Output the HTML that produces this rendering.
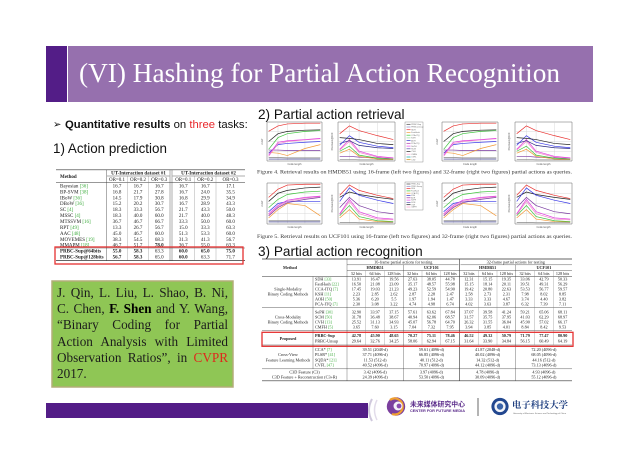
<!DOCTYPE html>
<html><head><meta charset="utf-8">
<style>
html,body{margin:0;padding:0;background:#fff}
body{width:640px;height:452px;overflow:hidden;position:relative}
svg{position:absolute;left:0;top:0}
.gb{position:absolute;left:57px;top:284.8px;width:171px;font-family:"Liberation Serif",serif;font-size:13.2px;line-height:16.3px;color:#1c1c1c}
.gb div{text-align:justify;text-align-last:justify;height:16.3px}
.gb div.l{text-align:left;text-align-last:left}
.gb b{color:#000}
.gb .r{color:#e0281c}
</style></head><body>
<svg width="640" height="452" viewBox="0 0 640 452" xmlns="http://www.w3.org/2000/svg">
<defs>
<g id="grid">
<rect x="0" y="0" width="100" height="100" fill="#fff" stroke="#666" stroke-width="0.5" vector-effect="non-scaling-stroke"/>
<path d="M20 0V100M37 0V100M69 0V100M0 25H100M0 50H100M0 75H100" stroke="#cfcfcf" stroke-width="0.4" fill="none" vector-effect="non-scaling-stroke"/>
</g>
<g id="inc1" fill="none" stroke-width="0.7">
<polyline vector-effect="non-scaling-stroke" stroke="#888" points="3,91 20,91 37,92 69,92 97,92"/>
<polyline vector-effect="non-scaling-stroke" stroke="#2a2a80" points="3,95 20,95 37,95 69,95 97,95"/>
<polyline vector-effect="non-scaling-stroke" stroke="#7a3aa0" points="3,72 20,72 37,73 69,73 97,73"/>
<polyline vector-effect="non-scaling-stroke" stroke="#f29a3a" points="3,78 20,80 37,86 69,68 97,58"/>
<polyline vector-effect="non-scaling-stroke" stroke="#3a3ae8" points="3,80 20,58 37,55 69,52 97,50"/>
<polyline vector-effect="non-scaling-stroke" stroke="#f08cc8" points="3,88 20,56 37,50 69,46 97,43"/>
<polyline vector-effect="non-scaling-stroke" stroke="#e040e0" points="3,85 20,52 37,48 69,45 97,42"/>
<polyline vector-effect="non-scaling-stroke" stroke="#3fc43f" points="3,70 20,40 37,30 69,24 97,22"/>
<polyline vector-effect="non-scaling-stroke" stroke="#222" points="3,50 20,30 37,24 69,21 97,20"/>
<polyline vector-effect="non-scaling-stroke" stroke="#e8312f" points="3,24 20,10 37,5 69,3 97,3"/>
</g>
<g id="dec1" fill="none" stroke-width="0.7">
<polyline vector-effect="non-scaling-stroke" stroke="#888" points="3,96 20,96 37,97 69,97 97,97"/>
<polyline vector-effect="non-scaling-stroke" stroke="#7a3aa0" points="3,88 20,88 37,90 69,92 97,93"/>
<polyline vector-effect="non-scaling-stroke" stroke="#f29a3a" points="3,80 20,70 37,88 69,95 97,96"/>
<polyline vector-effect="non-scaling-stroke" stroke="#3fc43f" points="3,75 20,62 37,85 69,93 97,95"/>
<polyline vector-effect="non-scaling-stroke" stroke="#f08cc8" points="3,72 20,50 37,78 69,90 97,93"/>
<polyline vector-effect="non-scaling-stroke" stroke="#e040e0" points="3,70 20,45 37,75 69,88 97,92"/>
<polyline vector-effect="non-scaling-stroke" stroke="#2a2a80" points="3,55 20,48 37,60 69,66 97,68"/>
<polyline vector-effect="non-scaling-stroke" stroke="#3a3ae8" points="3,60 20,35 37,52 69,62 97,66"/>
<polyline vector-effect="non-scaling-stroke" stroke="#222" points="3,40 20,42 37,45 69,55 97,58"/>
<polyline vector-effect="non-scaling-stroke" stroke="#e8312f" points="3,30 20,10 37,22 69,35 97,45"/>
</g>
<g id="inc2" fill="none" stroke-width="0.7">
<polyline vector-effect="non-scaling-stroke" stroke="#888" points="3,92 20,92 37,92 69,92 97,92"/>
<polyline vector-effect="non-scaling-stroke" stroke="#2a2a80" points="3,95 20,95 37,95 69,95 97,95"/>
<polyline vector-effect="non-scaling-stroke" stroke="#f29a3a" points="3,85 20,65 37,50 69,55 97,80"/>
<polyline vector-effect="non-scaling-stroke" stroke="#3a3ae8" points="3,70 20,50 37,45 69,45 97,45"/>
<polyline vector-effect="non-scaling-stroke" stroke="#7a3aa0" points="3,80 20,60 37,48 69,40 97,35"/>
<polyline vector-effect="non-scaling-stroke" stroke="#f08cc8" points="3,78 20,58 37,45 69,37 97,33"/>
<polyline vector-effect="non-scaling-stroke" stroke="#e040e0" points="3,75 20,55 37,42 69,35 97,32"/>
<polyline vector-effect="non-scaling-stroke" stroke="#3fc43f" points="3,60 20,40 37,28 69,22 97,20"/>
<polyline vector-effect="non-scaling-stroke" stroke="#222" points="3,45 20,25 37,18 69,12 97,10"/>
<polyline vector-effect="non-scaling-stroke" stroke="#e8312f" points="3,35 20,15 37,5 69,3 97,3"/>
</g>
<g id="dec2" fill="none" stroke-width="0.7">
<polyline vector-effect="non-scaling-stroke" stroke="#888" points="3,96 20,96 37,97 69,97 97,97"/>
<polyline vector-effect="non-scaling-stroke" stroke="#f29a3a" points="3,85 20,65 37,88 69,94 97,95"/>
<polyline vector-effect="non-scaling-stroke" stroke="#3fc43f" points="3,80 20,55 37,82 69,92 97,94"/>
<polyline vector-effect="non-scaling-stroke" stroke="#f08cc8" points="3,78 20,45 37,75 69,88 97,90"/>
<polyline vector-effect="non-scaling-stroke" stroke="#e040e0" points="3,75 20,40 37,70 69,85 97,88"/>
<polyline vector-effect="non-scaling-stroke" stroke="#7a3aa0" points="3,60 20,35 37,55 69,70 97,75"/>
<polyline vector-effect="non-scaling-stroke" stroke="#222" points="3,35 20,22 37,28 69,35 97,40"/>
<polyline vector-effect="non-scaling-stroke" stroke="#3a3ae8" points="3,45 20,12 37,30 69,42 97,50"/>
<polyline vector-effect="non-scaling-stroke" stroke="#e8312f" points="3,30 20,5 37,18 69,30 97,38"/>
</g>
</defs>

<!-- Title bar -->
<rect x="46" y="46" width="21" height="56" fill="#531d87"/>
<rect x="68" y="46" width="525" height="56" fill="#9670ae"/>
<text x="79" y="82" font-family="'Liberation Serif',serif" font-size="27.2" fill="#fff" textLength="481" lengthAdjust="spacingAndGlyphs">(VI) Hashing for Partial Action Recognition</text>

<!-- Headings -->
<text x="53" y="127.5" font-family="'DejaVu Sans',sans-serif" font-size="10" fill="#111">➢</text>
<text x="65" y="128" font-family="'Liberation Sans',sans-serif" font-size="11.3" fill="#111"><tspan font-weight="bold">Quantitative results</tspan> on <tspan fill="#e8262a">three</tspan> tasks:</text>
<text x="53" y="153" font-family="'Liberation Sans',sans-serif" font-size="13.4" fill="#111">1) Action prediction</text>
<text x="258" y="119" font-family="'Liberation Sans',sans-serif" font-size="13.6" fill="#111">2) Partial action retrieval</text>
<text x="258" y="256" font-family="'Liberation Sans',sans-serif" font-size="13.6" fill="#111">3) Partial action recognition</text>

<!-- Left table -->
<g stroke="#333" fill="none">
<path d="M56 169.8H245" stroke-width="0.7"/>
<path d="M107 176H169.5M172.5 176H245" stroke-width="0.4"/>
<path d="M56 182.5H245" stroke-width="0.5"/>
<path d="M56 248H245" stroke-width="0.4"/>
<path d="M56 260.6H245" stroke-width="0.7"/>
<path d="M106.5 169.8V260.6M170 169.8V260.6M172 169.8V260.6" stroke-width="0.4"/>
<path d="M127.5 176V260.6M148.5 176V260.6M194.5 176V260.6M216 176V260.6" stroke-width="0.3" stroke="#777"/>
</g>
<g font-family="'Liberation Serif',serif" font-size="5" fill="#222">
<text x="60" y="178" font-weight="bold">Method</text>
<g text-anchor="middle" font-weight="bold">
<text x="138.5" y="174.3">UT-Interaction dataset #1</text>
<text x="208.5" y="174.3">UT-Interaction dataset #2</text>
</g>
<text y="180.8" text-anchor="middle"><tspan x="117">OR=0.1</tspan><tspan x="138">OR=0.2</tspan><tspan x="159.2">OR=0.3</tspan><tspan x="183.2">OR=0.1</tspan><tspan x="205.2">OR=0.2</tspan><tspan x="230.5">OR=0.3</tspan></text>
<g>
<text x="60" y="187.4">Bayesian <tspan fill="#3cab3c">[36]</tspan></text>
<text x="60" y="193.3">BP-SVM <tspan fill="#3cab3c">[38]</tspan></text>
<text x="60" y="199.3">IBoW <tspan fill="#3cab3c">[36]</tspan></text>
<text x="60" y="205.2">DBoW <tspan fill="#3cab3c">[36]</tspan></text>
<text x="60" y="211.1">SC <tspan fill="#3cab3c">[4]</tspan></text>
<text x="60" y="217.1">MSSC <tspan fill="#3cab3c">[4]</tspan></text>
<text x="60" y="223.0">MTSSVM <tspan fill="#3cab3c">[16]</tspan></text>
<text x="60" y="228.9">RPT <tspan fill="#3cab3c">[49]</tspan></text>
<text x="60" y="234.8">AAC <tspan fill="#3cab3c">[48]</tspan></text>
<text x="60" y="240.8">MOVEMES <tspan fill="#3cab3c">[19]</tspan></text>
<text x="60" y="246.7">MMAPM <tspan fill="#3cab3c">[18]</tspan></text>
<text x="60" y="252.6" font-weight="bold">PRBC-Sup@64bits</text>
<text x="60" y="258.6" font-weight="bold">PRBC-Sup@128bits</text>
</g>
<g text-anchor="middle">
<text y="187.4"><tspan x="117">16.7</tspan><tspan x="138">16.7</tspan><tspan x="159.2">16.7</tspan><tspan x="183.2">16.7</tspan><tspan x="205.2">16.7</tspan><tspan x="230.5">17.1</tspan></text>
<text y="193.3"><tspan x="117">16.8</tspan><tspan x="138">21.7</tspan><tspan x="159.2">27.8</tspan><tspan x="183.2">16.7</tspan><tspan x="205.2">24.0</tspan><tspan x="230.5">35.5</tspan></text>
<text y="199.3"><tspan x="117">14.5</tspan><tspan x="138">17.9</tspan><tspan x="159.2">30.8</tspan><tspan x="183.2">16.8</tspan><tspan x="205.2">29.9</tspan><tspan x="230.5">34.9</tspan></text>
<text y="205.2"><tspan x="117">15.2</tspan><tspan x="138">20.2</tspan><tspan x="159.2">30.7</tspan><tspan x="183.2">16.7</tspan><tspan x="205.2">28.9</tspan><tspan x="230.5">43.3</tspan></text>
<text y="211.1"><tspan x="117">18.3</tspan><tspan x="138">33.3</tspan><tspan x="159.2">56.7</tspan><tspan x="183.2">21.7</tspan><tspan x="205.2">43.3</tspan><tspan x="230.5">50.0</tspan></text>
<text y="217.1"><tspan x="117">18.3</tspan><tspan x="138">40.0</tspan><tspan x="159.2">60.0</tspan><tspan x="183.2">21.7</tspan><tspan x="205.2">40.0</tspan><tspan x="230.5">48.3</tspan></text>
<text y="223.0"><tspan x="117">36.7</tspan><tspan x="138">46.7</tspan><tspan x="159.2">66.7</tspan><tspan x="183.2">33.3</tspan><tspan x="205.2">50.0</tspan><tspan x="230.5">60.0</tspan></text>
<text y="228.9"><tspan x="117">13.3</tspan><tspan x="138">26.7</tspan><tspan x="159.2">56.7</tspan><tspan x="183.2">15.0</tspan><tspan x="205.2">33.3</tspan><tspan x="230.5">63.3</tspan></text>
<text y="234.8"><tspan x="117">45.0</tspan><tspan x="138">46.7</tspan><tspan x="159.2">60.0</tspan><tspan x="183.2">51.3</tspan><tspan x="205.2">53.3</tspan><tspan x="230.5">60.0</tspan></text>
<text y="240.8"><tspan x="117">38.3</tspan><tspan x="138">54.5</tspan><tspan x="159.2">68.3</tspan><tspan x="183.2">31.3</tspan><tspan x="205.2">41.3</tspan><tspan x="230.5">56.7</tspan></text>
<text y="246.7"><tspan x="117">46.7</tspan><tspan x="138">51.7</tspan><tspan x="159.2" font-weight="bold">78.0</tspan><tspan x="183.2">36.7</tspan><tspan x="205.2">55.0</tspan><tspan x="230.5">63.3</tspan></text>
<text y="252.6"><tspan x="117" font-weight="bold">55.0</tspan><tspan x="138" font-weight="bold">58.3</tspan><tspan x="159.2">63.3</tspan><tspan x="183.2" font-weight="bold">60.0</tspan><tspan x="205.2" font-weight="bold">65.0</tspan><tspan x="230.5" font-weight="bold">75.0</tspan></text>
<text y="258.6"><tspan x="117" font-weight="bold">56.7</tspan><tspan x="138" font-weight="bold">58.3</tspan><tspan x="159.2">65.0</tspan><tspan x="183.2" font-weight="bold">60.0</tspan><tspan x="205.2">63.3</tspan><tspan x="230.5">71.7</tspan></text>
</g>
</g>
<rect x="55" y="247" width="188" height="17" fill="none" stroke="#e53030" stroke-width="1.3"/>

<!-- Green citation box -->
<rect x="52" y="281" width="181" height="106" fill="#8fc655" stroke="#b3ad78" stroke-width="1.5"/>

<!-- Bottom bar -->
<rect x="46" y="403" width="322" height="15" fill="#531d87"/>
<path d="M372 399Q366 410 372 421" stroke="#cfc8dc" stroke-width="2" fill="none"/>
<path d="M377 400Q372 410 377 420" stroke="#e2dcea" stroke-width="1.5" fill="none"/>

<!-- Logos -->
<circle cx="396" cy="406.5" r="9.2" fill="#7b3f9e"/>
<path d="M390 400A8 8 0 1 1 392 414" stroke="#f0a030" stroke-width="2.2" fill="none"/>
<circle cx="398" cy="406" r="4.5" fill="#f4f0f8"/>
<circle cx="399" cy="406" r="2.4" fill="#8a4ab0"/>
<text x="410" y="406.5" font-family="'Noto Sans CJK SC',sans-serif" font-weight="bold" font-size="6.8" fill="#5a2a8a" textLength="55" lengthAdjust="spacingAndGlyphs">未来媒体研究中心</text>
<text x="410" y="411.8" font-family="'Liberation Sans',sans-serif" font-weight="bold" font-size="3.4" fill="#5a2a8a" textLength="55" lengthAdjust="spacingAndGlyphs">CENTER FOR FUTURE MEDIA</text>
<path d="M478 398V416" stroke="#444" stroke-width="0.8"/>
<circle cx="500" cy="406.5" r="8.6" fill="#22478f"/>
<circle cx="500" cy="406.5" r="5.6" fill="#f2f4f8"/>
<circle cx="500" cy="406.5" r="3.2" fill="#3a63a8"/>
<text x="512" y="408" font-family="'Noto Serif CJK SC',serif" font-weight="bold" font-size="9" fill="#1f3f80" textLength="56" lengthAdjust="spacingAndGlyphs">电子科技大学</text>
<text x="513" y="413.8" font-family="'Liberation Sans',sans-serif" font-size="2.2" fill="#666" textLength="53" lengthAdjust="spacingAndGlyphs">University of Electronic Science and Technology of China</text>

<!-- Retrieval plots row 1 -->
<use href="#grid" transform="translate(267,122) scale(0.55,0.39)"/>
<use href="#inc1" transform="translate(267,122) scale(0.55,0.39)"/>
<use href="#grid" transform="translate(338,122) scale(0.57,0.39)"/>
<use href="#dec1" transform="translate(338,122) scale(0.57,0.39)"/>
<use href="#grid" transform="translate(442,122) scale(0.56,0.39)"/>
<use href="#inc1" transform="translate(442,122) scale(0.56,0.39)"/>
<use href="#grid" transform="translate(515,122) scale(0.57,0.39)"/>
<use href="#dec1" transform="translate(515,122) scale(0.57,0.39)"/>
<!-- Row 2 -->
<use href="#grid" transform="translate(267,183) scale(0.55,0.41)"/>
<use href="#inc2" transform="translate(267,183) scale(0.55,0.41)"/>
<use href="#grid" transform="translate(338,183) scale(0.57,0.41)"/>
<use href="#dec2" transform="translate(338,183) scale(0.57,0.41)"/>
<use href="#grid" transform="translate(442,183) scale(0.56,0.41)"/>
<use href="#inc2" transform="translate(442,183) scale(0.56,0.41)"/>
<use href="#grid" transform="translate(515,183) scale(0.57,0.41)"/>
<use href="#dec2" transform="translate(515,183) scale(0.57,0.41)"/>

<g font-family="'Liberation Sans',sans-serif" font-size="2.6" fill="#555" text-anchor="middle">
<text x="294.5" y="165">Code length</text><text x="366.5" y="165">Code length</text><text x="470" y="165">Code length</text><text x="543.5" y="165">Code length</text>
<text x="294.5" y="228">Code length</text><text x="366.5" y="228">Code length</text><text x="470" y="228">Code length</text><text x="543.5" y="228">Code length</text>
<text transform="translate(263,141.5) rotate(-90)">mAP</text>
<text transform="translate(333,141.5) rotate(-90)">Precision@100</text>
<text transform="translate(438,141.5) rotate(-90)">mAP</text>
<text transform="translate(510,141.5) rotate(-90)">Precision@100</text>
<text transform="translate(263,203.5) rotate(-90)">mAP</text>
<text transform="translate(333,203.5) rotate(-90)">Precision@100</text>
<text transform="translate(438,203.5) rotate(-90)">mAP</text>
<text transform="translate(510,203.5) rotate(-90)">Precision@100</text>
</g>

<!-- Legends -->
<rect x="405" y="122" width="18" height="40" fill="#fff" stroke="#777" stroke-width="0.4"/>
<g stroke-width="0.7">
<path d="M406.5 124.3h4" stroke="#444"/><path d="M406.5 127h4" stroke="#8888cc"/><path d="M406.5 129.7h4" stroke="#e33"/><path d="M406.5 132.5h4" stroke="#f29a3a"/><path d="M406.5 135.2h4" stroke="#3c3"/><path d="M406.5 137.9h4" stroke="#9d9"/><path d="M406.5 140.6h4" stroke="#33c"/><path d="M406.5 143.3h4" stroke="#a3a"/><path d="M406.5 146.1h4" stroke="#e4e"/><path d="M406.5 148.8h4" stroke="#55a"/><path d="M406.5 151.5h4" stroke="#222"/><path d="M406.5 154.2h4" stroke="#f9c"/><path d="M406.5 157h4" stroke="#0aa"/><path d="M406.5 159.7h4" stroke="#c80"/>
</g>
<g font-family="'Liberation Sans',sans-serif" font-size="2" fill="#666">
<text x="411.3" y="125">PRBC-Sup</text><text x="411.3" y="127.7">PRBC-Unsup</text><text x="411.3" y="130.4">SDH</text><text x="411.3" y="133.2">FastHash</text><text x="411.3" y="135.9">CCA-ITQ</text><text x="411.3" y="138.6">KSH</text><text x="411.3" y="141.3">AOH</text><text x="411.3" y="144">PCA-ITQ</text><text x="411.3" y="146.8">SePH</text><text x="411.3" y="149.5">SCM</text><text x="411.3" y="152.2">CVH</text><text x="411.3" y="154.9">CMFH</text><text x="411.3" y="157.7">CVFL</text><text x="411.3" y="160.4">C3D</text>
</g>
<rect x="405" y="182" width="18" height="28" fill="#fff" stroke="#777" stroke-width="0.4"/>
<g stroke-width="0.7">
<path d="M406.5 184h4" stroke="#444"/><path d="M406.5 186.3h4" stroke="#8888cc"/><path d="M406.5 188.6h4" stroke="#e33"/><path d="M406.5 190.9h4" stroke="#3c3"/><path d="M406.5 193.2h4" stroke="#f29a3a"/><path d="M406.5 195.5h4" stroke="#33c"/><path d="M406.5 197.8h4" stroke="#a3a"/><path d="M406.5 200.1h4" stroke="#e4e"/><path d="M406.5 202.4h4" stroke="#55a"/><path d="M406.5 204.7h4" stroke="#222"/><path d="M406.5 207h4" stroke="#f9c"/>
</g>
<g font-family="'Liberation Sans',sans-serif" font-size="1.8" fill="#666">
<text x="411.3" y="184.6">PRBC-Sup</text><text x="411.3" y="186.9">PRBC-Unsup</text><text x="411.3" y="189.2">SDH</text><text x="411.3" y="191.5">FastHash</text><text x="411.3" y="193.8">CCA-ITQ</text><text x="411.3" y="196.1">KSH</text><text x="411.3" y="198.4">AOH</text><text x="411.3" y="200.7">SePH</text><text x="411.3" y="203">SCM</text><text x="411.3" y="205.3">CVH</text><text x="411.3" y="207.6">CMFH</text>
</g>

<!-- Captions -->
<g font-family="'Liberation Serif',serif" font-size="5.2" fill="#333">
<text x="257" y="173.5" textLength="315" lengthAdjust="spacingAndGlyphs">Figure 4. Retrieval results on HMDB51 using 16-frame (left two figures) and 32-frame (right two figures) partial actions as queries.</text>
<text x="257" y="238" textLength="315" lengthAdjust="spacingAndGlyphs">Figure 5. Retrieval results on UCF101 using 16-frame (left two figures) and 32-frame (right two figures) partial actions as queries.</text>
</g>

<!-- Right table -->
<g stroke="#333" fill="none">
<path d="M262 259H572" stroke-width="0.7"/>
<path d="M347 264.8H458.5M460.5 264.8H572" stroke-width="0.4"/>
<path d="M347 270.6H572" stroke-width="0.4"/>
<path d="M262 276.5H572" stroke-width="0.5"/>
<path d="M262 307.3H572M262 330.3H572M262 345H572M262 368.8H572" stroke-width="0.4"/>
<path d="M262 380.8H572" stroke-width="0.7"/>
<path d="M313 276.5V368.8M347 259V380.8M403.25 264.8V380.8M515.75 264.8V380.8" stroke-width="0.35"/>
<path d="M459.5 259V380.8" stroke-width="0.6"/>
<path d="M365.75 270.6V345M384.5 270.6V345M422 270.6V345M440.75 270.6V345M478.25 270.6V345M497 270.6V345M534.5 270.6V345M553.25 270.6V345" stroke-width="0.3" stroke="#777"/>
</g>
<g font-family="'Liberation Serif',serif" font-size="4.2" fill="#222">
<g text-anchor="middle">
<text x="290" y="269" font-weight="bold">Method</text>
<text x="403.25" y="263.3">16-frame partial actions for testing</text>
<text x="515.75" y="263.3">32-frame partial actions for testing</text>
<text y="269.1" font-weight="bold"><tspan x="375.1">HMDB51</tspan><tspan x="431.4">UCF101</tspan><tspan x="487.6">HMDB51</tspan><tspan x="543.9">UCF101</tspan></text>
<text y="274.9"><tspan x="356.4">32 bits</tspan><tspan x="375.1">64 bits</tspan><tspan x="393.9">128 bits</tspan><tspan x="412.6">32 bits</tspan><tspan x="431.4">64 bits</tspan><tspan x="450.1">128 bits</tspan><tspan x="468.9">32 bits</tspan><tspan x="487.6">64 bits</tspan><tspan x="506.4">128 bits</tspan><tspan x="525.1">32 bits</tspan><tspan x="543.9">64 bits</tspan><tspan x="562.6">128 bits</tspan></text>
<text x="288" y="290.5">Single-Modality</text><text x="288" y="295.4">Binary Coding Methods</text>
<text x="288" y="318.7">Cross-Modality</text><text x="288" y="323.6">Binary Coding Methods</text>
<text x="288" y="339.8" font-weight="bold">Proposed</text>
<text x="288" y="356.2">Cross-View</text><text x="288" y="361.4">Feature Learning Methods</text>
<text x="304.5" y="373.6">C3D Feature (C3)</text>
<text x="304.5" y="378.6">C3D Feature + Reconstruction (C3+R)</text>

<text y="280.6"><tspan x="356.4">13.91</tspan><tspan x="375.1">16.47</tspan><tspan x="393.9">19.56</tspan><tspan x="412.6">27.63</tspan><tspan x="431.4">38.05</tspan><tspan x="450.1">44.78</tspan><tspan x="468.9">12.31</tspan><tspan x="487.6">15.15</tspan><tspan x="506.4">19.35</tspan><tspan x="525.1">33.06</tspan><tspan x="543.9">42.79</tspan><tspan x="562.6">50.33</tspan></text>
<text y="285.6"><tspan x="356.4">16.50</tspan><tspan x="375.1">21.08</tspan><tspan x="393.9">23.09</tspan><tspan x="412.6">35.17</tspan><tspan x="431.4">48.57</tspan><tspan x="450.1">55.98</tspan><tspan x="468.9">15.15</tspan><tspan x="487.6">18.14</tspan><tspan x="506.4">20.11</tspan><tspan x="525.1">39.51</tspan><tspan x="543.9">49.31</tspan><tspan x="562.6">56.29</tspan></text>
<text y="290.5"><tspan x="356.4">17.45</tspan><tspan x="375.1">19.03</tspan><tspan x="393.9">21.23</tspan><tspan x="412.6">49.23</tspan><tspan x="431.4">52.59</tspan><tspan x="450.1">54.90</tspan><tspan x="468.9">19.42</tspan><tspan x="487.6">20.80</tspan><tspan x="506.4">22.63</tspan><tspan x="525.1">53.53</tspan><tspan x="543.9">56.77</tspan><tspan x="562.6">59.57</tspan></text>
<text y="295.5"><tspan x="356.4">2.23</tspan><tspan x="375.1">2.85</tspan><tspan x="393.9">2.62</tspan><tspan x="412.6">2.87</tspan><tspan x="431.4">2.28</tspan><tspan x="450.1">2.47</tspan><tspan x="468.9">2.58</tspan><tspan x="487.6">2.73</tspan><tspan x="506.4">2.31</tspan><tspan x="525.1">7.98</tspan><tspan x="543.9">8.02</tspan><tspan x="562.6">8.85</tspan></text>
<text y="300.4"><tspan x="356.4">5.36</tspan><tspan x="375.1">6.20</tspan><tspan x="393.9">5.5</tspan><tspan x="412.6">1.97</tspan><tspan x="431.4">1.94</tspan><tspan x="450.1">1.47</tspan><tspan x="468.9">3.33</tspan><tspan x="487.6">3.33</tspan><tspan x="506.4">4.67</tspan><tspan x="525.1">3.74</tspan><tspan x="543.9">4.40</tspan><tspan x="562.6">3.82</tspan></text>
<text y="305.3"><tspan x="356.4">2.30</tspan><tspan x="375.1">3.08</tspan><tspan x="393.9">3.22</tspan><tspan x="412.6">4.74</tspan><tspan x="431.4">4.98</tspan><tspan x="450.1">6.74</tspan><tspan x="468.9">4.02</tspan><tspan x="487.6">3.63</tspan><tspan x="506.4">3.87</tspan><tspan x="525.1">6.32</tspan><tspan x="543.9">7.39</tspan><tspan x="562.6">7.11</tspan></text>

<text y="313.7"><tspan x="356.4">32.90</tspan><tspan x="375.1">33.97</tspan><tspan x="393.9">37.15</tspan><tspan x="412.6">57.61</tspan><tspan x="431.4">63.62</tspan><tspan x="450.1">67.84</tspan><tspan x="468.9">37.07</tspan><tspan x="487.6">39.58</tspan><tspan x="506.4">41.24</tspan><tspan x="525.1">59.21</tspan><tspan x="543.9">65.06</tspan><tspan x="562.6">68.11</tspan></text>
<text y="318.7"><tspan x="356.4">31.78</tspan><tspan x="375.1">36.48</tspan><tspan x="393.9">38.67</tspan><tspan x="412.6">40.94</tspan><tspan x="431.4">62.06</tspan><tspan x="450.1">68.57</tspan><tspan x="468.9">31.57</tspan><tspan x="487.6">35.75</tspan><tspan x="506.4">37.95</tspan><tspan x="525.1">41.03</tspan><tspan x="543.9">62.29</tspan><tspan x="562.6">68.97</tspan></text>
<text y="323.7"><tspan x="356.4">25.52</tspan><tspan x="375.1">31.13</tspan><tspan x="393.9">34.93</tspan><tspan x="412.6">45.07</tspan><tspan x="431.4">56.78</tspan><tspan x="450.1">64.70</tspan><tspan x="468.9">26.32</tspan><tspan x="487.6">31.55</tspan><tspan x="506.4">36.04</tspan><tspan x="525.1">45.90</tspan><tspan x="543.9">57.02</tspan><tspan x="562.6">66.17</tspan></text>
<text y="328.7"><tspan x="356.4">3.65</tspan><tspan x="375.1">7.60</tspan><tspan x="393.9">3.15</tspan><tspan x="412.6">7.04</tspan><tspan x="431.4">7.32</tspan><tspan x="450.1">7.95</tspan><tspan x="468.9">3.94</tspan><tspan x="487.6">3.85</tspan><tspan x="506.4">4.01</tspan><tspan x="525.1">8.84</tspan><tspan x="543.9">8.42</tspan><tspan x="562.6">9.53</tspan></text>

<text y="337" font-weight="bold"><tspan x="356.4">42.78</tspan><tspan x="375.1">45.90</tspan><tspan x="393.9">48.65</tspan><tspan x="412.6">70.27</tspan><tspan x="431.4">75.11</tspan><tspan x="450.1">78.46</tspan><tspan x="468.9">46.52</tspan><tspan x="487.6">49.32</tspan><tspan x="506.4">50.79</tspan><tspan x="525.1">71.79</tspan><tspan x="543.9">77.47</tspan><tspan x="562.6">80.90</tspan></text>
<text y="342.6"><tspan x="356.4">29.64</tspan><tspan x="375.1">32.76</tspan><tspan x="393.9">34.25</tspan><tspan x="412.6">58.06</tspan><tspan x="431.4">62.94</tspan><tspan x="450.1">67.15</tspan><tspan x="468.9">31.64</tspan><tspan x="487.6">33.90</tspan><tspan x="506.4">34.84</tspan><tspan x="525.1">56.15</tspan><tspan x="543.9">60.49</tspan><tspan x="562.6">64.19</tspan></text>

<text y="351"><tspan x="375.1">39.51 (2048-d)</tspan><tspan x="431.4">59.61 (4096-d)</tspan><tspan x="487.6">41.87 (2048-d)</tspan><tspan x="543.9">72.20 (4096-d)</tspan></text>
<text y="356.2"><tspan x="375.1">37.71 (4096-d)</tspan><tspan x="431.4">66.85 (4096-d)</tspan><tspan x="487.6">40.02 (4096-d)</tspan><tspan x="543.9">68.05 (4096-d)</tspan></text>
<text y="361.4"><tspan x="375.1">11.53 (512-d)</tspan><tspan x="431.4">40.11 (512-d)</tspan><tspan x="487.6">14.32 (512-d)</tspan><tspan x="543.9">44.16 (512-d)</tspan></text>
<text y="366.6"><tspan x="375.1">40.52 (4096-d)</tspan><tspan x="431.4">70.97 (4096-d)</tspan><tspan x="487.6">44.12 (4096-d)</tspan><tspan x="543.9">73.13 (4096-d)</tspan></text>
<text y="373.6"><tspan x="375.1">3.42 (4096-d)</tspan><tspan x="431.4">3.97 (4096-d)</tspan><tspan x="487.6">4.78 (4096-d)</tspan><tspan x="543.9">4.93 (4096-d)</tspan></text>
<text y="378.6"><tspan x="375.1">24.39 (4096-d)</tspan><tspan x="431.4">53.50 (4096-d)</tspan><tspan x="487.6">30.09 (4096-d)</tspan><tspan x="543.9">55.12 (4096-d)</tspan></text>
</g>
<g>
<text x="315" y="280.6">SDH <tspan fill="#3cab3c">[33]</tspan></text>
<text x="315" y="285.6">FastHash <tspan fill="#3cab3c">[22]</tspan></text>
<text x="315" y="290.5">CCA-ITQ <tspan fill="#3cab3c">[7]</tspan></text>
<text x="315" y="295.5">KSH <tspan fill="#3cab3c">[11]</tspan></text>
<text x="315" y="300.4">AOH <tspan fill="#3cab3c">[50]</tspan></text>
<text x="315" y="305.3">PCA-ITQ <tspan fill="#3cab3c">[7]</tspan></text>
<text x="315" y="313.7">SePH <tspan fill="#3cab3c">[30]</tspan></text>
<text x="315" y="318.7">SCM <tspan fill="#3cab3c">[50]</tspan></text>
<text x="315" y="323.7">CVH <tspan fill="#3cab3c">[13]</tspan></text>
<text x="315" y="328.7">CMFH <tspan fill="#3cab3c">[5]</tspan></text>
<text x="315" y="337" font-weight="bold">PRBC-Sup</text>
<text x="315" y="342.6">PRBC-Unsup</text>
<text x="315" y="351">CCA* <tspan fill="#3cab3c">[7]</tspan></text>
<text x="315" y="356.2">PLSR* <tspan fill="#3cab3c">[41]</tspan></text>
<text x="315" y="361.4">SQDA* <tspan fill="#3cab3c">[21]</tspan></text>
<text x="315" y="366.6">CVFL <tspan fill="#3cab3c">[47]</tspan></text>
</g>
</g>
<rect x="262" y="332.3" width="311" height="14" fill="none" stroke="#e53030" stroke-width="1.3"/>
</svg>

<div class="gb">
<div>J. Qin, L. Liu, L. Shao, B. Ni,</div>
<div>C. Chen, <b>F. Shen</b> and Y. Wang,</div>
<div>“Binary Coding for Partial</div>
<div>Action Analysis with Limited</div>
<div>Observation Ratios”, in <span class="r">CVPR</span></div>
<div class="l">2017.</div>
</div>
</body></html>
